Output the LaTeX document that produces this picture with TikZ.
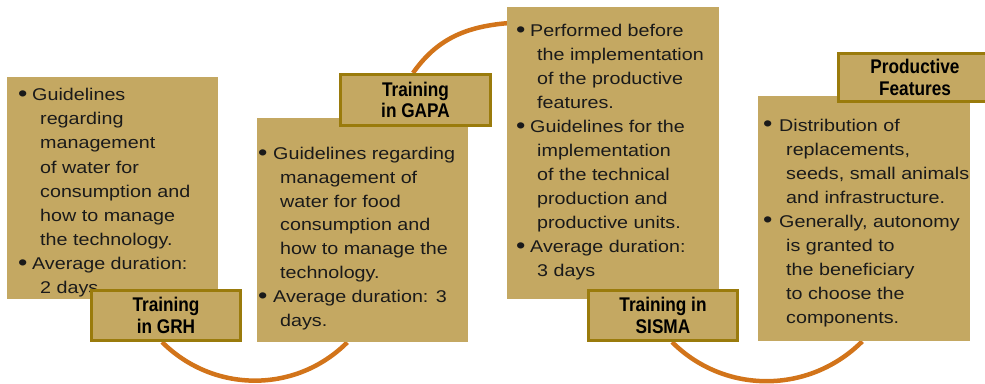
\documentclass[tikz,border=0pt]{standalone}
\usepackage{fontspec}
\setmainfont{Liberation Sans}[FakeStretch=1.16]
\newfontfamily\titlefont{Liberation Sans}[FakeStretch=0.87]
\definecolor{boxfill}{HTML}{C4A862}
\definecolor{ttlborder}{HTML}{9A7B0C}
\definecolor{arcorange}{HTML}{D2741A}
\definecolor{txtcol}{HTML}{1A1A1A}
\pgfdeclarelayer{bg}
\pgfsetlayers{bg,main}
\newcommand\bl[1]{\makebox[#1][l]{\raisebox{-0.9pt}{\scalebox{1.35}{\textbullet}}}}
\newcommand\ind[1]{\hspace*{#1}}
\tikzset{
  box/.style={fill=boxfill, draw=none, inner sep=0pt, anchor=north west},
  ttl/.style={fill=boxfill, draw=ttlborder, line width=3pt, inner sep=0pt, align=center,
    text=black, font=\titlefont\bfseries\fontsize{19.8}{21.5}\selectfont},
  txt/.style={inner sep=0pt, anchor=base west, text=txtcol},
  arcline/.style={draw=arcorange, line width=4.5pt}
}
\begin{document}
\begin{tikzpicture}
\useasboundingbox (0pt,0pt) rectangle (985pt,-383pt);

% ---- box 1
\node[box, minimum width=211pt, minimum height=222pt] (b1) at (7pt,-77pt) {};
\node[txt] (x1) at (18pt,-100.7pt) {\parbox[t]{240pt}{\fontsize{17}{24.1}\selectfont\raggedright
\bl{14pt}Guidelines\\
\ind{22pt}regarding\\
\ind{22pt}management\\
\ind{22pt}of water for\\
\ind{22pt}consumption and\\
\ind{22pt}how to manage\\
\ind{22pt}the technology.\\
\bl{14pt}Average duration:\\
\ind{22pt}2 days.}};
\node[ttl, minimum width=149pt, minimum height=50pt] (t1) at (166pt,-315.5pt) {Training\\in GRH};

% ---- box 2
\node[box, minimum width=211pt, minimum height=224pt] (b2) at (257pt,-118pt) {};
\node[txt] (x2) at (258pt,-159.4pt) {\parbox[t]{240pt}{\fontsize{17}{23.8}\selectfont\raggedright
\bl{15pt}Guidelines regarding\\
\ind{22pt}management of\\
\ind{22pt}water for food\\
\ind{22pt}consumption and\\
\ind{22pt}how to manage the\\
\ind{22pt}technology.\\
\bl{15pt}Average duration: 3\\
\ind{22pt}days.}};
\node[ttl, minimum width=150pt, minimum height=51pt] (t2) at (415.5pt,-100pt) {Training\\in GAPA};

% ---- box 3
\node[box, minimum width=212pt, minimum height=292pt] (b3) at (507pt,-7pt) {};
\node[txt] (x3) at (516pt,-36.7pt) {\parbox[t]{240pt}{\fontsize{17}{24}\selectfont\raggedright
\bl{14pt}Performed before\\
\ind{21pt}the implementation\\
\ind{21pt}of the productive\\
\ind{21pt}features.\\
\bl{14pt}Guidelines for the\\
\ind{21pt}implementation\\
\ind{21pt}of the technical\\
\ind{21pt}production and\\
\ind{21pt}productive units.\\
\bl{14pt}Average duration:\\
\ind{21pt}3 days}};
\node[ttl, minimum width=149pt, minimum height=50pt] (t3) at (663pt,-315.5pt) {Training in\\SISMA};

% ---- box 4
\node[box, minimum width=212pt, minimum height=245pt] (b4) at (758pt,-96pt) {};
\node[txt] (x4) at (763pt,-131pt) {\parbox[t]{240pt}{\fontsize{17}{24}\selectfont\raggedright
\bl{16pt}Distribution of\\
\ind{23pt}replacements,\\
\ind{23pt}seeds, small animals\\
\ind{23pt}and infrastructure.\\
\bl{16pt}Generally, autonomy\\
\ind{23pt}is granted to\\
\ind{23pt}the beneficiary\\
\ind{23pt}to choose the\\
\ind{23pt}components.}};
\node[ttl, minimum width=153pt, minimum height=48pt] (t4) at (915pt,-77.5pt) {Productive\\Features};

% ---- connecting arcs
\begin{pgfonlayer}{bg}
\draw[arcline] ([xshift=-4pt]t1.south) to[out=-45,in=-135] ([xshift=-15.5pt]b2.south);
\draw[arcline] ([xshift=-2.5pt]t2.north) to[out=55,in=185] ([yshift=130pt]b3.west);
\draw[arcline] ([xshift=9pt]t3.south) to[out=-45,in=-135] ([xshift=-2pt]b4.south);
\end{pgfonlayer}
\end{tikzpicture}
\end{document}
